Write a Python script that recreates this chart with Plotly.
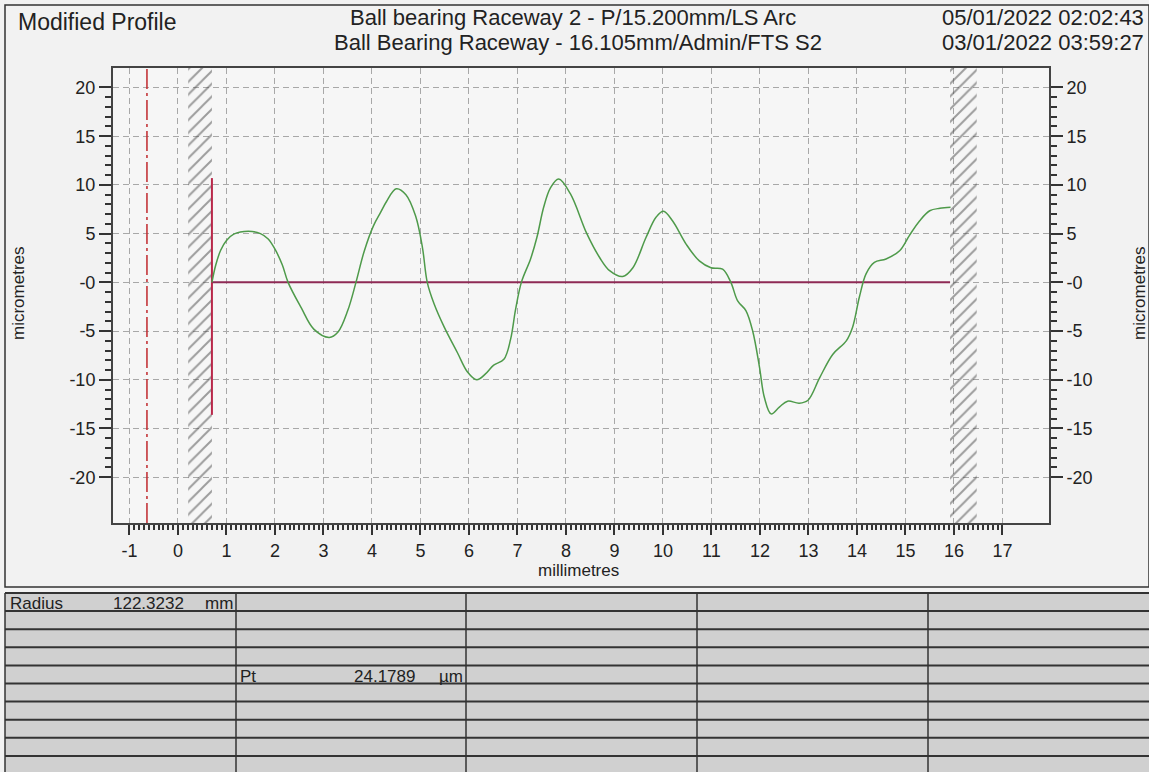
import plotly.graph_objects as go
import numpy as np

# ---------------- data ----------------
profile_x = [0.70, 0.78, 0.88, 1.00, 1.15, 1.45, 1.70, 1.86, 2.00, 2.15, 2.27, 2.54, 2.80, 3.12, 3.30,
             3.50, 3.67, 3.84, 4.03, 4.18, 4.30, 4.50, 4.70, 4.90, 5.04, 5.14, 5.28, 5.49, 5.76, 5.97,
             6.16, 6.34, 6.51, 6.72, 6.86, 6.96, 7.08, 7.27, 7.40, 7.54, 7.68, 7.85, 8.09, 8.43, 8.70,
             8.90, 9.17, 9.38, 9.65, 9.86, 10.01, 10.20, 10.48, 10.75, 10.99, 11.23, 11.40, 11.54, 11.71,
             11.85, 11.99, 12.09, 12.23, 12.40, 12.57, 12.81, 12.99, 13.23, 13.50, 13.78, 13.91, 14.05,
             14.19, 14.36, 14.60, 14.88, 15.08, 15.29, 15.50, 15.71, 15.93]
profile_y = [0.0, 1.8, 3.3, 4.3, 4.95, 5.25, 5.0, 4.45, 3.4, 1.8, 0.0, -2.6, -4.8, -5.65, -5.1,
             -2.9, 0.0, 3.2, 5.8, 7.2, 8.3, 9.6, 9.0, 6.8, 3.6, 0.0, -2.2, -4.6, -7.2, -9.2,
             -10.0, -9.4, -8.5, -7.9, -5.8, -2.8, 0.0, 2.4, 4.6, 7.7, 9.7, 10.6, 9.1, 5.0, 2.5,
             1.2, 0.6, 1.5, 4.6, 6.7, 7.3, 6.3, 3.9, 2.2, 1.5, 1.35, 0.0, -1.9, -2.9,
             -5.0, -8.7, -11.8, -13.5, -12.8, -12.2, -12.4, -12.1, -9.8, -7.4, -6.0, -4.6, -1.5,
             0.9, 2.05, 2.4, 3.25, 4.8, 6.3, 7.35, 7.6, 7.7]

hatch_zones = [(0.21, 0.70), (15.92, 16.47)]   # excluded zones (mm)
datum_x = -0.64                                # dash-dot reference line
eval_start, eval_end = 0.70, 15.92             # evaluation range (mm)
marker_line_y = (-13.6, 10.7)                  # red start marker extent

x_ticks = list(range(-1, 18))
x_ticktext = [str(v) for v in x_ticks]
y_ticks = [20, 15, 10, 5, 0, -5, -10, -15, -20]
y_ticktext = ["20", "15", "10", "5", "-0", "-5", "-10", "-15", "-20"]
x_range = [-1.34, 17.96]
y_range = [-24.7, 22.0]

title_left = "Modified Profile"
title_lines = ["Ball bearing Raceway 2 - P/15.200mm/LS Arc",
               "Ball Bearing Raceway - 16.105mm/Admin/FTS S2"]
date_lines = ["05/01/2022 02:02:43", "03/01/2022 03:59:27"]

table_radius = ("Radius", "122.3232", "mm")
table_pt = ("Pt", "24.1789", "µm")

# ---------------- geometry helpers ----------------
W, H = 1149, 772
def fx(px):
    return px / W
def fy(py):
    return 1 - py / H

FONT = "Liberation Sans, Arial, sans-serif"
TXT = "#222222"
fig = go.Figure()

# hatched zones
for (a, b) in hatch_zones:
    fig.add_trace(go.Scatter(
        x=[a, b, b, a, a], y=[y_range[0], y_range[0], y_range[1], y_range[1], y_range[0]],
        mode="lines", line=dict(width=0, color="rgba(0,0,0,0)"), fill="toself",
        fillcolor="rgba(0,0,0,0)",
        fillpattern=dict(shape="/", fgcolor="#444444", bgcolor="rgba(0,0,0,0)", size=9, solidity=0.22),
        hoverinfo="skip", showlegend=False))

# datum dash-dot line
fig.add_trace(go.Scatter(x=[datum_x, datum_x], y=y_range, mode="lines",
                         line=dict(color="#c0282d", width=1.5, dash="20px,4px,3px,4px"),
                         showlegend=False, hoverinfo="skip"))
# start marker
fig.add_trace(go.Scatter(x=[eval_start, eval_start], y=list(marker_line_y), mode="lines",
                         line=dict(color="#b8284a", width=2), showlegend=False, hoverinfo="skip"))
# zero reference line
fig.add_trace(go.Scatter(x=[eval_start, eval_end], y=[0, 0], mode="lines",
                         line=dict(color="#8e2a55", width=2), showlegend=False, hoverinfo="skip"))
# profile
fig.add_trace(go.Scatter(x=profile_x, y=profile_y, mode="lines", line_shape="spline",
                         line=dict(color="#4e9a4a", width=1.5), showlegend=False))
# dummy trace for right axis
fig.add_trace(go.Scatter(x=[None], y=[None], yaxis="y2", showlegend=False))

axis_common = dict(showline=True, linecolor="#444444", linewidth=2,
                   gridcolor="#a8a8a8", griddash="6px,4px", gridwidth=1,
                   zeroline=False, tickcolor="#333333", tickwidth=1.5,
                   tickfont=dict(family=FONT, size=18, color=TXT), automargin=False)

fig.update_layout(
    width=W, height=H,
    margin=dict(l=0, r=0, t=0, b=0, autoexpand=False),
    paper_bgcolor="#f2f2f2", plot_bgcolor="#f6f6f6",
    xaxis=dict(domain=[fx(113), fx(1049)], range=x_range, tickmode="array", tickvals=x_ticks,
               ticktext=x_ticktext,
               ticks="outside", ticklen=10, mirror=True, showgrid=True,
               minor=dict(tickmode="array", tickvals=[round(v, 1) for v in np.arange(-1, 17.001, 0.1)],
                          ticks="outside", ticklen=5, tickcolor="#333333", showgrid=False),
               **axis_common),
    yaxis=dict(domain=[fy(523), fy(68)], range=y_range, tickmode="array", tickvals=y_ticks,
               ticktext=y_ticktext, ticks="outside", ticklen=12, mirror=True, showgrid=True,
               minor=dict(tickmode="array", tickvals=list(range(-20, 21)),
                          ticks="outside", ticklen=6, tickcolor="#333333", showgrid=False),
               **axis_common),
    yaxis2=dict(overlaying="y", side="right", anchor="x", range=y_range, tickmode="array",
                tickvals=y_ticks, ticktext=y_ticktext, ticks="outside", ticklen=12, showgrid=False,
                minor=dict(tickmode="array", tickvals=list(range(-20, 21)),
                           ticks="outside", ticklen=6, tickcolor="#333333", showgrid=False),
                **axis_common),
)

ann = []
def add_text(text, x, y, size, xanchor="left", yanchor="middle", angle=0):
    ann.append(dict(text=text, x=fx(x), y=fy(y), xref="paper", yref="paper", showarrow=False,
                    xanchor=xanchor, yanchor=yanchor, textangle=angle,
                    font=dict(family=FONT, size=size, color=TXT)))

add_text(title_left, 16, 22, 23)
add_text(title_lines[0], 573, 18, 22, xanchor="center")
add_text(title_lines[1], 578, 43, 22, xanchor="center")
add_text(date_lines[0], 1146, 18, 22, xanchor="right")
add_text(date_lines[1], 1146, 43, 22, xanchor="right")
add_text("millimetres", 578, 570, 17, xanchor="center")
add_text("micrometres", 18, 293, 17, xanchor="center", angle=-90)
add_text("micrometres", 1139, 293, 17, xanchor="center", angle=-90)

# table text
add_text(table_radius[0], 8, 603, 17)
add_text(table_radius[1], 186, 603, 17, xanchor="right")
add_text(table_radius[2], 203, 603, 17)
add_text(table_pt[0], 238, 676, 17)
add_text(table_pt[1], 417, 676, 17, xanchor="right")
add_text(table_pt[2], 437, 676, 17)

shapes = []
# outer chart frame
shapes.append(dict(type="rect", xref="paper", yref="paper", x0=fx(5), x1=fx(1149), y0=fy(587), y1=fy(5),
                   line=dict(color="#333333", width=1.5), fillcolor="rgba(0,0,0,0)", layer="below"))
# table background
shapes.append(dict(type="rect", xref="paper", yref="paper", x0=fx(5), x1=fx(1149), y0=fy(772), y1=fy(593),
                   line=dict(width=0), fillcolor="#d0d0d0", layer="below"))
row_lines = [593 + 18.1 * k for k in range(10)]
for ry in row_lines:
    shapes.append(dict(type="line", xref="paper", yref="paper", x0=fx(5), x1=fx(1149), y0=fy(ry), y1=fy(ry),
                       line=dict(color="#333333", width=2)))
for cx in [5, 236, 466, 697, 928]:
    shapes.append(dict(type="line", xref="paper", yref="paper", x0=fx(cx), x1=fx(cx), y0=fy(593), y1=fy(772),
                       line=dict(color="#333333", width=1.5)))

fig.update_layout(annotations=ann, shapes=shapes)
fig.write_html("out.html", config={"displayModeBar": False},
               post_script="document.body.style.margin='0px';document.body.style.padding='0px';")
